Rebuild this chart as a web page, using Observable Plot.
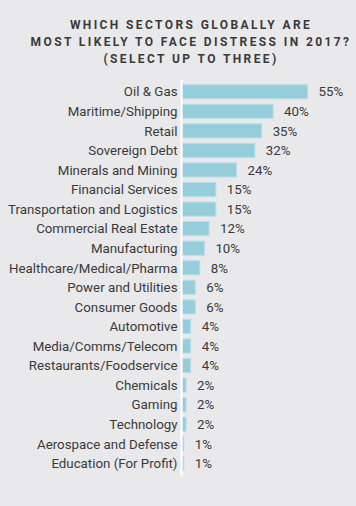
<!DOCTYPE html>
<html>
<head>
<meta charset="utf-8">
<script src="https://cdn.jsdelivr.net/npm/d3@7"></script>
<script src="https://cdn.jsdelivr.net/npm/@observablehq/plot@0.6"></script>
<style>
  html, body { margin: 0; padding: 0; background: #e9e9eb; overflow: hidden; }
  body { width: 356px; height: 506px; position: relative; font-family: Roboto, "Noto Sans", sans-serif; }
  #title {
    position: absolute; top: 17px; left: 0; width: 356px;
    box-sizing: border-box;
    text-align: center;
    font-weight: 700;
    font-size: 12px;
    line-height: 17px;
    letter-spacing: 2.4px;
    color: #3a3a3a;
    padding-left: 26px;
  }
  #title div { white-space: nowrap; height: 17px; }
  #chart { position: absolute; top: 68px; left: 0; width: 356px; height: 438px; }
  #chart svg { display: block; max-width: none !important; width: 356px; height: 438px; }
</style>
</head>
<body>
<div id="title">
  <div>WHICH SECTORS GLOBALLY ARE</div>
  <div>MOST LIKELY TO FACE DISTRESS IN 2017?</div>
  <div>(SELECT UP TO THREE)</div>
</div>
<div id="chart"></div>
<script>
const sectors = [
  "Oil & Gas", "Maritime/Shipping", "Retail", "Sovereign Debt", "Minerals and Mining",
  "Financial Services", "Transportation and Logistics", "Commercial Real Estate", "Manufacturing",
  "Healthcare/Medical/Pharma", "Power and Utilities", "Consumer Goods", "Automotive",
  "Media/Comms/Telecom", "Restaurants/Foodservice", "Chemicals", "Gaming", "Technology",
  "Aerospace and Defense", "Education (For Profit)"
];
const shares = [55, 40, 35, 32, 24, 15, 15, 12, 10, 8, 6, 6, 4, 4, 4, 2, 2, 2, 1, 1];

const data = sectors.map((s, i) => ({sector: s, value: shares[i]}));
const textColor = "#3a3a3a";

const chart = Plot.plot({
  width: 356,
  height: 438,
  marginLeft: 182,
  marginRight: 36.6,
  marginTop: 11.7,
  marginBottom: 30.6,
  style: {background: "transparent", fontFamily: "Roboto, 'Noto Sans', sans-serif"},
  x: {domain: [0, 60], axis: null},
  y: {domain: sectors, padding: 0.23, round: false, label: null},
  marks: [
    Plot.barX(data, {x: "value", y: "sector", fill: "#96cddb", stroke: "#b8dde8", strokeWidth: 1, inset: 0.5}),
    Plot.ruleX([0], {stroke: "#ffffff", strokeWidth: 2, dx: -1}),
    Plot.text(data, {x: "value", y: "sector", text: d => d.value + "%", textAnchor: "start", dx: 10, fontSize: 13.3, fill: textColor}),
    Plot.axisY({tickSize: 0, tickPadding: 5, fontSize: 13.3, color: textColor, label: null})
  ]
});
document.getElementById("chart").appendChild(chart);
</script>
</body>
</html>
